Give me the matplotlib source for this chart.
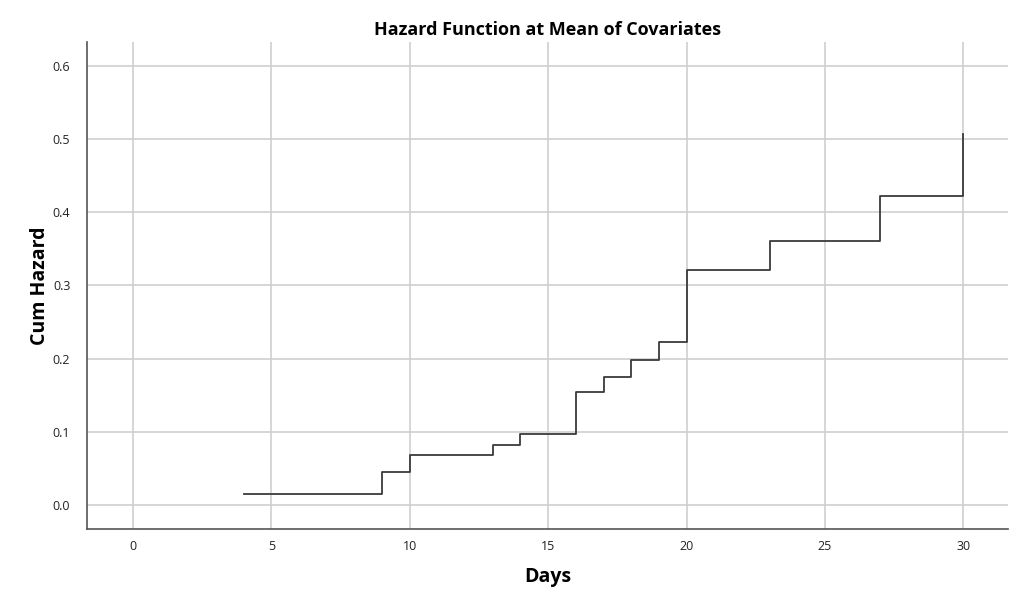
import matplotlib
matplotlib.use("Agg")
import matplotlib.pyplot as plt

days = [4, 9, 10, 13, 14, 16, 17, 18, 19, 20, 23, 27, 30]
cum_hazard = [0.015, 0.045, 0.068, 0.082, 0.097, 0.154, 0.175, 0.198, 0.223,
              0.321, 0.361, 0.422, 0.507]
x_ticks = [0, 5, 10, 15, 20, 25, 30]
y_ticks = [0.0, 0.1, 0.2, 0.3, 0.4, 0.5, 0.6]

plt.rcParams['font.family'] = ['Open Sans', 'DejaVu Sans']

fig = plt.figure(figsize=(10.24, 6.06), dpi=100)
ax = fig.add_axes([0.085, 0.127, 0.899, 0.804])

ax.step(days, cum_hazard, where='post', color='#3a3a3a', linewidth=1.3, zorder=3)

ax.set_xlim(-1.66, 31.6)
ax.set_ylim(-0.033, 0.633)
ax.set_xticks(x_ticks)
ax.set_yticks(y_ticks)
ax.set_xticklabels([str(t) for t in x_ticks], fontsize=9)
ax.set_yticklabels([f"{t:.1f}" for t in y_ticks], fontsize=9)
ax.tick_params(axis='x', length=0, pad=8, colors='#222222')
ax.tick_params(axis='y', length=0, pad=12, colors='#222222')

ax.grid(True, color='#cfcfcf', linewidth=1.2, zorder=0)
ax.set_axisbelow(True)
for s in ['top', 'right']:
    ax.spines[s].set_visible(False)
for s in ['left', 'bottom']:
    ax.spines[s].set_color('#555555')
    ax.spines[s].set_linewidth(1.2)

ax.set_title("Hazard Function at Mean of Covariates", fontsize=13, fontweight='bold', pad=5)
ax.set_xlabel("Days", fontsize=14, fontweight='bold', labelpad=10)
ax.set_ylabel("Cum Hazard", fontsize=14, fontweight='bold', labelpad=2)

fig.savefig("out.png", dpi=100, facecolor='white')
